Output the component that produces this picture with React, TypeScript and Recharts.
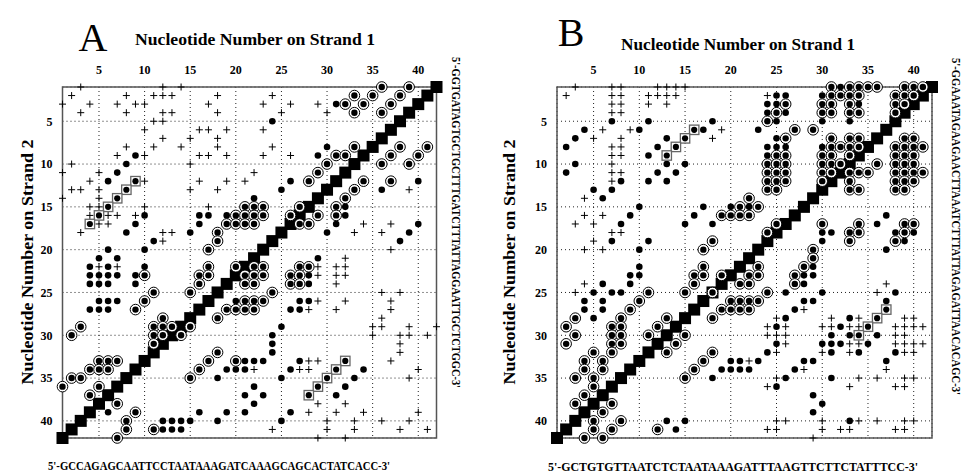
import { ScatterChart, Scatter, XAxis, YAxis, CartesianGrid, ReferenceArea } from 'recharts';

const FONT = '"Liberation Serif", "Times New Roman", serif';

// tick positions shared by both panels
const ticks = [5, 10, 15, 20, 25, 30, 35, 40];

// sequences (strand 1 along the bottom, strand 2 down the right side)
const seqA1 = "5'-GCCAGAGCAATTCCTAATAAAGATCAAAGCAGCACTATCACC-3'";
const seqA2 = "5'-GGTGATAGTGCTGCTTTGATCTTTATTAGGAATTGCTCTGGC-3'";
const seqB1 = "5'-GCTGTGTTAATCTCTAATAAAGATTTAAGTTCTTCTATTTCC-3'";
const seqB2 = "5'-GGAAATAGAAGAACTTAAATCTTTATTAGAGATTAACACAGC-3'";

// self-pairing diagonal [strand1, strand2]
const diagonal: number[][] = [
  [1, 42], [2, 41], [3, 40], [4, 39], [5, 38], [6, 37], [7, 36], [8, 35], [9, 34], [10, 33], [11, 32], [12, 31], [13, 30], [14, 29],
  [15, 28], [16, 27], [17, 26], [18, 25], [19, 24], [20, 23], [21, 22], [22, 21], [23, 20], [24, 19], [25, 18], [26, 17], [27, 16], [28, 15],
  [29, 14], [30, 13], [31, 12], [32, 11], [33, 10], [34, 9], [35, 8], [36, 7], [37, 6], [38, 5], [39, 4], [40, 3], [41, 2], [42, 1],
];

// ---------- panel A ----------
const aDots: number[][] = [
  [9, 9], [8, 10], [7, 11], [6, 12], [10, 16], [16, 16], [17, 16], [19, 16], [9, 17], [16, 17], [8, 18], [15, 18], [11, 19],
  [6, 20], [10, 20],
  [31, 3], [24, 5], [30, 8], [29, 9], [26, 12], [40, 12], [25, 13], [36, 13], [22, 14], [32, 15], [32, 16], [31, 17], [40, 17], [30, 18], [39, 18], [38, 19],
  [5, 21], [7, 21], [4, 22], [6, 22], [10, 22], [4, 23], [5, 23], [6, 23], [7, 23], [9, 23], [4, 24], [5, 24], [6, 24], [9, 24],
  [5, 26], [6, 26], [7, 26], [20, 26], [4, 27], [5, 27], [6, 27],
  [21, 33], [22, 33], [23, 33], [19, 34], [20, 34], [21, 34], [18, 35], [21, 37], [6, 39], [16, 39], [19, 39], [21, 39],
  [12, 40], [13, 40], [14, 40], [15, 40], [18, 40], [12, 41], [13, 41], [14, 41],
  [29, 21], [28, 23], [28, 24], [27, 26], [28, 26], [26, 27], [27, 27], [25, 29], [24, 30], [24, 31], [24, 32], [27, 33], [26, 34],
  [34, 34], [25, 35], [33, 35], [22, 36], [32, 36], [23, 37], [31, 37], [22, 38], [26, 39], [25, 40],
];

const aRings: number[][] = [
  [21, 15], [20, 16], [21, 16], [19, 17], [20, 17], [21, 17], [18, 18], [18, 19],
  [36, 1], [39, 1], [33, 2], [35, 2], [38, 2], [32, 3], [34, 3], [37, 3], [33, 4], [36, 4], [33, 8], [38, 8], [41, 8],
  [31, 9], [32, 9], [37, 9], [40, 9], [30, 10], [36, 10], [39, 10], [29, 11], [28, 12], [34, 12], [37, 12], [33, 13], [32, 14],
  [22, 15], [23, 15], [27, 15], [31, 15], [22, 16], [23, 16], [26, 16], [29, 16], [31, 16], [22, 17], [27, 17], [28, 17],
  [17, 20], [17, 22], [20, 22], [10, 23], [16, 23], [17, 23], [16, 24], [11, 25], [15, 25], [10, 26], [21, 26], [9, 27], [19, 27],
  [20, 27], [21, 27], [12, 28], [18, 28], [3, 29], [11, 29], [12, 29], [13, 29], [15, 29], [2, 30], [11, 30], [12, 30], [14, 30],
  [11, 31], [18, 32], [5, 33], [6, 33], [7, 33], [17, 33], [20, 33], [4, 34], [5, 34], [6, 34], [16, 34], [2, 35], [3, 35], [15, 35],
  [1, 36], [5, 36], [4, 37], [7, 38], [9, 39], [8, 40], [8, 41], [11, 41], [7, 42],
  [22, 22], [23, 22], [27, 22], [28, 22], [21, 23], [22, 23], [23, 23], [26, 23], [27, 23], [21, 24], [22, 24], [26, 24], [27, 24],
  [24, 25], [22, 26], [23, 26], [22, 27],
];

const aPlus: number[][] = [
  [3, 1], [12, 1], [14, 1], [2, 2], [8, 2], [11, 2], [12, 2], [13, 2], [18, 2], [1, 3], [4, 3], [7, 3], [9, 3], [10, 3], [17, 3],
  [3, 4], [8, 4], [12, 4], [13, 4], [18, 4], [11, 5], [12, 5], [10, 6], [16, 6], [17, 6], [19, 6], [12, 7], [15, 7], [18, 7],
  [8, 8], [11, 8], [14, 8], [18, 8], [7, 9], [10, 9], [16, 9], [17, 9], [19, 9], [2, 10], [15, 10], [1, 11], [5, 11],
  [4, 12], [10, 12], [16, 12], [19, 12], [21, 12], [2, 13], [3, 13], [5, 13], [15, 13], [18, 13], [1, 14], [5, 14],
  [4, 15], [5, 15], [10, 15], [17, 15], [4, 16], [6, 16], [7, 16], [9, 16], [5, 17], [6, 17], [3, 18], [12, 18], [13, 18], [12, 19],
  [24, 2], [23, 3], [26, 3], [29, 3], [25, 4], [30, 4], [23, 6], [24, 8], [23, 9], [26, 9], [22, 11], [39, 13], [34, 17], [37, 17],
  [33, 18], [36, 18], [5, 22], [7, 22],
  [37, 20], [32, 21], [29, 22], [31, 22], [32, 22], [29, 23], [31, 23], [32, 23], [31, 24], [36, 25], [38, 25], [29, 26], [32, 26],
  [37, 26], [28, 27], [31, 27], [37, 27], [36, 28], [35, 29], [36, 29], [39, 29], [42, 29], [35, 30], [38, 30], [39, 30], [41, 30],
  [38, 31], [38, 32], [28, 33], [29, 33], [37, 33], [22, 34], [27, 34], [28, 34], [40, 34], [39, 35], [29, 38], [32, 38],
  [28, 39], [31, 39], [34, 39], [40, 39], [30, 40], [33, 40], [36, 40], [39, 40], [24, 41], [30, 41], [33, 41], [38, 41], [41, 41],
  [29, 42], [32, 42],
];

const aBoxed: number[][] = [
  [9, 12], [8, 13], [7, 14], [6, 15], [5, 16], [4, 17], [32, 33], [31, 34], [30, 35], [29, 36], [28, 37],
];

// ---------- panel B ----------
const bDots: number[][] = [
  [7, 5], [11, 5], [18, 5], [4, 6], [10, 6], [17, 6], [3, 7], [13, 7], [2, 8], [12, 8], [11, 9], [3, 10], [13, 10], [15, 10],
  [2, 11], [12, 11], [14, 11], [8, 12], [11, 12], [13, 12], [5, 13], [7, 13], [6, 14], [10, 15], [17, 15], [20, 15], [9, 16],
  [16, 16], [8, 17], [15, 17], [18, 17], [7, 19], [11, 19],
  [32, 1], [25, 2], [26, 2], [30, 2], [24, 3], [25, 3], [34, 3], [24, 4], [26, 4], [25, 5], [30, 5], [33, 5], [23, 6], [25, 7],
  [24, 8], [25, 8], [26, 8], [30, 8], [24, 9], [22, 15], [37, 16], [36, 17], [30, 18], [31, 18], [38, 18], [40, 18], [30, 19], [39, 19],
  [10, 20], [10, 22], [9, 23], [10, 23], [6, 24], [9, 24], [5, 25], [7, 25], [8, 25], [4, 26], [6, 26], [4, 27], [6, 27], [5, 28],
  [19, 34], [18, 35], [13, 40], [15, 40], [14, 41],
  [37, 20], [29, 22], [28, 23], [29, 23], [28, 24], [26, 25], [30, 25], [38, 25], [28, 26], [29, 26], [37, 26], [27, 27], [26, 28],
  [33, 28], [25, 29], [32, 29], [31, 30], [33, 30], [36, 30], [25, 31], [30, 31], [31, 31], [32, 31], [35, 31], [24, 32], [31, 32],
  [34, 32], [38, 32], [20, 33], [21, 33], [23, 33], [28, 33], [29, 33], [37, 33], [20, 34], [21, 34], [22, 34], [27, 34], [26, 35],
  [31, 35], [25, 36], [29, 37], [30, 38], [29, 39], [33, 40],
];

const bRings: number[][] = [
  [19, 16], [20, 16], [18, 19],
  [31, 1], [33, 1], [34, 1], [35, 1], [36, 1], [39, 1], [40, 1], [41, 1],
  [31, 2], [32, 2], [33, 2], [34, 2], [38, 2], [39, 2], [40, 2],
  [26, 3], [30, 3], [31, 3], [33, 3], [38, 3], [39, 3],
  [25, 4], [30, 4], [31, 4], [33, 4], [34, 4], [38, 4],
  [24, 5], [27, 6], [29, 6],
  [26, 7], [31, 7], [33, 7], [34, 7], [39, 7], [40, 7],
  [31, 8], [32, 8], [33, 8], [34, 8], [38, 8], [39, 8], [40, 8], [41, 8],
  [25, 9], [26, 9], [30, 9], [31, 9], [33, 9], [38, 9], [39, 9], [40, 9],
  [24, 10], [25, 10], [26, 10], [30, 10], [31, 10], [32, 10], [36, 10], [38, 10], [39, 10], [40, 10],
  [24, 11], [25, 11], [26, 11], [30, 11], [31, 11], [33, 11], [34, 11], [35, 11], [38, 11], [39, 11], [40, 11], [41, 11],
  [24, 12], [25, 12], [26, 12], [30, 12], [33, 12], [38, 12], [39, 12], [40, 12],
  [24, 13], [25, 13], [33, 13], [34, 13], [38, 13], [39, 13],
  [22, 14], [21, 15], [23, 15], [21, 16], [22, 16],
  [25, 17], [30, 17], [34, 17], [39, 17], [40, 17],
  [24, 18], [33, 18], [34, 18], [39, 18], [33, 19], [38, 19],
  [17, 20], [17, 22], [16, 23], [17, 23], [19, 23], [16, 24], [11, 25], [15, 25], [18, 25], [10, 26], [9, 27], [19, 27],
  [3, 28], [8, 28], [13, 28], [18, 28], [2, 29], [7, 29], [8, 29], [12, 29], [3, 30], [7, 30], [8, 30], [11, 30], [15, 30],
  [2, 31], [7, 31], [8, 31], [14, 31], [5, 32], [7, 32], [13, 32], [18, 32], [4, 33], [6, 33], [17, 33], [4, 34], [6, 34], [16, 34],
  [3, 35], [5, 35], [15, 35], [5, 36], [4, 37], [3, 38], [7, 38], [6, 39], [5, 40], [8, 40], [5, 41], [7, 41], [12, 41], [4, 42], [6, 42],
  [29, 20], [29, 21], [23, 22], [28, 22], [22, 23], [23, 23], [27, 23], [21, 24], [22, 24], [27, 24], [24, 25],
  [20, 26], [21, 26], [22, 26], [23, 26], [20, 27], [21, 27], [22, 27],
];

const bPlus: number[][] = [
  [3, 1], [7, 1], [8, 1], [12, 1], [13, 1], [14, 1], [15, 1], [2, 2], [7, 2], [8, 2], [11, 2], [12, 2], [13, 2], [14, 2],
  [7, 3], [8, 3], [11, 3], [13, 3], [7, 4], [8, 4], [6, 6], [9, 6], [19, 6], [5, 7], [8, 7], [18, 7], [7, 8], [8, 8], [7, 9], [8, 9],
  [7, 10], [7, 11], [8, 11], [7, 12], [4, 14], [4, 16], [6, 16], [3, 17], [5, 17], [7, 18], [8, 18], [5, 19], [24, 2],
  [4, 20], [6, 20], [4, 24], [3, 25],
  [37, 24], [36, 25], [28, 27], [25, 28], [31, 28], [34, 28], [39, 28], [40, 28], [24, 29], [26, 29], [30, 29], [31, 29], [33, 29],
  [34, 29], [38, 29], [39, 29], [40, 29], [41, 29], [24, 30], [25, 30], [26, 30], [38, 30], [39, 30], [26, 31], [33, 31], [34, 31],
  [38, 31], [39, 31], [40, 31], [41, 31], [25, 32], [30, 32], [33, 32], [39, 32], [40, 32], [22, 33], [28, 34], [37, 34], [25, 35],
  [34, 35], [36, 35], [39, 35], [40, 35], [24, 36], [33, 36], [38, 36], [39, 36], [25, 40], [26, 40], [30, 40], [34, 40], [36, 40],
  [39, 40], [40, 40], [24, 41], [25, 41], [30, 41], [32, 41], [33, 41], [38, 41], [39, 41], [29, 42],
];

const bBoxed: number[][] = [[16, 6], [15, 7], [14, 8], [13, 9], [37, 27], [36, 28], [35, 29], [34, 30]];

const pts = (arr: number[][]) => arr.map(([x, y]) => ({ x, y }));

// marker shapes
const BlackSquare = (p: any) => <rect x={p.cx - 6} y={p.cy - 6} width={12} height={12} fill="#000" />;
const Dot = (p: any) => <circle cx={p.cx} cy={p.cy} r={3.3} fill="#000" />;
const Ring = (p: any) => (
  <g>
    <circle cx={p.cx} cy={p.cy} r={5.3} fill="#fff" stroke="#000" strokeWidth={1} />
    <circle cx={p.cx} cy={p.cy} r={3.2} fill="#000" />
  </g>
);
const Plus = (p: any) => (
  <path d={`M${p.cx - 3.5},${p.cy}H${p.cx + 3.5}M${p.cx},${p.cy - 3.5}V${p.cy + 3.5}`} stroke="#000" strokeWidth={1} />
);
const Boxed = (p: any) => (
  <g>
    <rect x={p.cx - 4.7} y={p.cy - 4.7} width={9.4} height={9.4} fill="#fff" stroke="#666" strokeWidth={1.3} />
    <circle cx={p.cx} cy={p.cy} r={3.1} fill="#000" />
  </g>
);

const tickStyle = { fill: '#000', fontSize: 12, fontWeight: 'bold', fontFamily: FONT };

const Panel = ({ left, width, marginLeft, marginRight, dots, rings, plus, boxed }: any) => (
  <div style={{ position: 'absolute', left, top: 0 }}>
    <ScatterChart width={width} height={473} margin={{ top: 57, right: marginRight, bottom: 35, left: marginLeft }}>
      <CartesianGrid stroke="#222" strokeDasharray="1 3" />
      <XAxis type="number" dataKey="x" orientation="top" domain={[1, 42]} ticks={ticks} height={30}
        tickLine={false} axisLine={false} tickSize={6} tickMargin={7} tick={tickStyle} />
      <YAxis type="number" dataKey="y" domain={[1, 42]} reversed ticks={ticks} width={20}
        tickLine={false} axisLine={false} tickSize={6} tickMargin={4} tick={tickStyle} />
      <ReferenceArea x1={1} x2={42} y1={1} y2={42} fill="none" fillOpacity={0} stroke="#555" strokeWidth={1.5} />
      <Scatter data={pts(diagonal)} shape={BlackSquare} isAnimationActive={false} />
      <Scatter data={pts(plus)} shape={Plus} isAnimationActive={false} />
      <Scatter data={pts(dots)} shape={Dot} isAnimationActive={false} />
      <Scatter data={pts(rings)} shape={Ring} isAnimationActive={false} />
      <Scatter data={pts(boxed)} shape={Boxed} isAnimationActive={false} />
    </ScatterChart>
  </div>
);

const seqStyle = { fontFamily: FONT, fontWeight: 'bold' as const, fontSize: 11.5 };
const titleStyle = { fontFamily: FONT, fontWeight: 'bold' as const, fontSize: 16.5 };

export default function App() {
  return (
    <div style={{ position: 'absolute', left: 0, top: 0, width: 965, height: 473, background: '#fff', overflow: 'hidden' }}>
      <Panel left={0} width={480} marginLeft={42.5} marginRight={43.5}
        dots={aDots} rings={aRings} plus={aPlus} boxed={aBoxed} />
      <Panel left={480} width={485} marginLeft={57} marginRight={33}
        dots={bDots} rings={bRings} plus={bPlus} boxed={bBoxed} />
      <svg width={965} height={473} style={{ position: 'absolute', left: 0, top: 0, pointerEvents: 'none' }}>
        <text x={93} y={51} textAnchor="middle" fontFamily={FONT} fontSize={40}>A</text>
        <text x={571} y={46} textAnchor="middle" fontFamily={FONT} fontSize={40}>B</text>
        <text x={255} y={45} textAnchor="middle" textLength={240} lengthAdjust="spacingAndGlyphs" {...titleStyle}>Nucleotide Number on Strand 1</text>
        <text x={738} y={50} textAnchor="middle" textLength={234} lengthAdjust="spacingAndGlyphs" {...titleStyle}>Nucleotide Number on Strand 1</text>
        <text x={33} y={262} textAnchor="middle" textLength={245} lengthAdjust="spacingAndGlyphs" transform="rotate(-90 33 262)" {...titleStyle}>Nucleotide Number on Strand 2</text>
        <text x={515} y={262} textAnchor="middle" textLength={245} lengthAdjust="spacingAndGlyphs" transform="rotate(-90 515 262)" {...titleStyle}>Nucleotide Number on Strand 2</text>
        <text x={48} y={470} textLength={342} lengthAdjust="spacingAndGlyphs" {...seqStyle}>{seqA1}</text>
        <text x={548} y={471} textLength={370} lengthAdjust="spacingAndGlyphs" {...seqStyle}>{seqB1}</text>
        <text x={452} y={57} textLength={331} lengthAdjust="spacingAndGlyphs" transform="rotate(90 452 57)" {...seqStyle}>{seqA2}</text>
        <text x={952} y={58} textLength={337} lengthAdjust="spacingAndGlyphs" transform="rotate(90 952 58)" {...seqStyle}>{seqB2}</text>
      </svg>
    </div>
  );
}
